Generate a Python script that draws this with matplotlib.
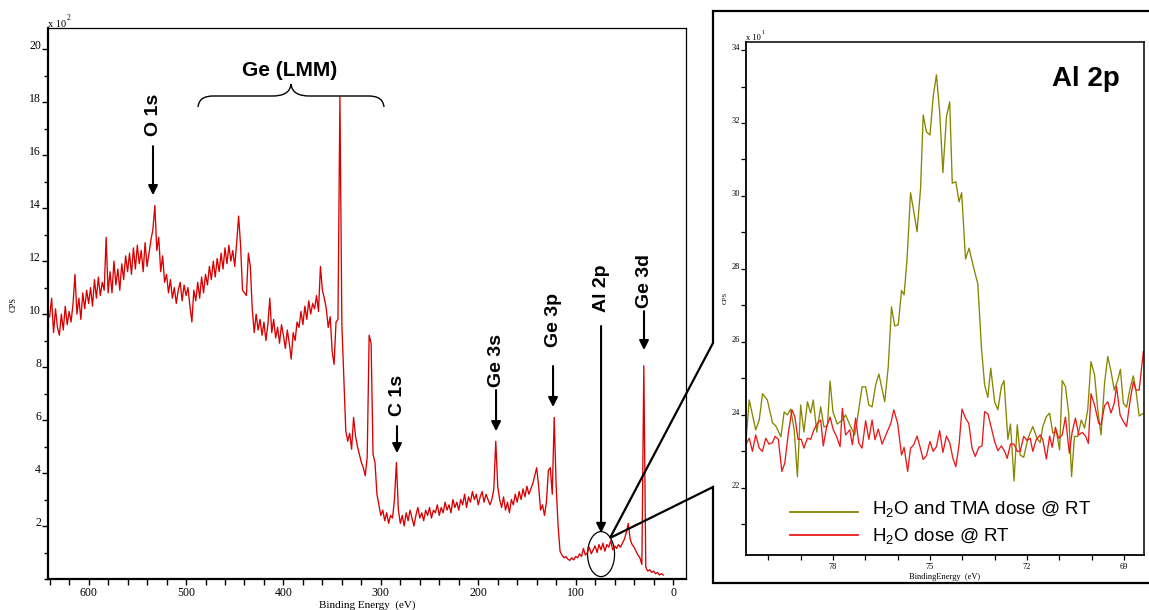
import numpy as np
import matplotlib
matplotlib.use("Agg")
import matplotlib.pyplot as plt
from matplotlib.patches import Ellipse, PathPatch
from matplotlib.path import Path
from matplotlib.lines import Line2D
from matplotlib.ticker import FixedLocator, MultipleLocator

plt.rcParams['mathtext.fontset'] = 'custom'
plt.rcParams['mathtext.rm'] = 'Liberation Sans'
plt.rcParams['mathtext.it'] = 'Liberation Sans:italic'
plt.rcParams['mathtext.bf'] = 'Liberation Sans:bold'

# ---------------- DATA ----------------
# Survey spectrum: binding energy grid (eV) and counts (CPS x 10^2)
survey_start, survey_stop, survey_step = 640, 10, 2
survey_cps = [
    9.9, 10.6, 9.3, 10.2, 9.5, 9.2, 10.0, 9.4, 10.3, 9.6, 10.1,
    9.7, 10.4, 11.5, 10.0, 10.6, 9.8, 10.8, 10.2, 10.9, 10.4,
    11.0, 10.3, 11.3, 10.6, 11.4, 10.7, 11.2, 10.9, 12.9, 10.8,
    11.6, 10.8, 12.0, 11.1, 11.7, 10.9, 11.9, 11.3, 12.2, 11.6,
    12.3, 11.5, 12.5, 11.7, 12.6, 11.9, 12.4, 11.6, 12.7, 11.8,
    12.3, 12.8, 13.2, 14.1, 12.4, 12.9, 11.6, 12.2, 11.2, 11.5,
    10.8, 11.3, 10.6, 11.0, 10.4, 10.9, 11.2, 10.5, 11.1, 10.7,
    11.0, 10.3, 9.7, 10.9, 10.5, 11.2, 10.6, 11.4, 10.8, 11.5,
    11.1, 11.8, 11.3, 12.0, 11.4, 12.1, 11.6, 12.3, 11.7, 12.5,
    11.9, 12.6, 12.0, 12.4, 11.8, 12.7, 13.7, 12.6, 10.9, 10.8,
    10.7, 12.3, 11.8, 10.2, 9.3, 10.0, 9.4, 9.8, 9.2, 9.7,
    9.0, 9.6, 10.6, 9.3, 9.8, 9.1, 9.5, 8.9, 9.6, 9.2,
    8.7, 9.4, 8.9, 8.3, 9.3, 9.0, 9.7, 9.5, 10.1, 9.6,
    10.3, 9.8, 10.5, 10.0, 10.4, 10.2, 10.7, 10.1, 11.8, 10.9,
    10.6, 10.2, 9.5, 9.9, 8.6, 8.1, 9.7, 9.8, 18.2, 9.6,
    7.6, 5.6, 5.2, 5.5, 4.9, 6.1, 5.4, 5.0, 4.7, 4.4,
    4.2, 3.9, 4.6, 9.2, 8.9, 4.7, 4.4, 3.2, 2.8, 2.4,
    2.6, 2.2, 2.5, 2.1, 2.4, 2.3, 3.0, 4.4, 2.6, 2.1,
    2.4, 2.0, 2.5, 2.2, 2.6, 2.3, 2.0, 2.4, 2.7, 2.3,
    2.5, 2.2, 2.6, 2.4, 2.7, 2.3, 2.6, 2.5, 2.8, 2.4,
    2.7, 2.5, 2.9, 2.6, 2.8, 2.5, 3.0, 2.7, 2.9, 2.6,
    3.0, 2.8, 3.2, 2.7, 3.1, 2.9, 3.3, 3.0, 3.2, 2.8,
    3.1, 3.3, 2.9, 3.2, 3.0, 2.8, 3.0, 3.4, 5.2, 3.5,
    3.0, 2.7, 3.1, 2.6, 2.9, 2.5, 3.0, 2.8, 3.2, 2.9,
    3.3, 3.0, 3.4, 3.1, 3.5, 3.2, 3.4, 3.6, 3.9, 4.2,
    3.5, 2.6, 2.8, 2.4, 2.9, 4.1, 4.2, 3.2, 6.1, 3.5,
    2.0, 1.05, 0.9, 0.8, 0.85, 0.75, 0.7, 0.8, 0.72, 0.85,
    0.8, 0.95, 0.85, 1.15, 0.9, 1.0, 1.2, 0.95, 1.1, 1.25,
    1.0, 1.3, 1.1, 1.35, 1.05, 1.3, 1.2, 1.45, 1.1, 1.25,
    1.15, 1.3, 1.2, 1.35, 1.5, 1.75, 2.1, 1.5, 1.3, 1.2,
    1.05, 0.9, 0.8, 0.55, 8.05, 0.45, 0.3, 0.35, 0.25, 0.3,
    0.2, 0.25, 0.15, 0.2, 0.15,
]

# Al 2p detail: H2O and TMA dose @ RT (energy eV, CPS x 10^1)
tma_energy = [
    80.69, 80.59, 80.39, 80.28, 80.18, 80.03, 79.87, 79.77, 79.61, 79.51,
    79.41, 79.31, 79.20, 79.10, 79.00, 78.90, 78.79, 78.69, 78.61, 78.50,
    78.38, 78.28, 78.17, 78.09, 78.00, 77.87, 77.71, 77.61, 77.48, 77.33,
    77.25, 77.10, 76.99, 76.89, 76.79, 76.68, 76.58, 76.40, 76.29, 76.19,
    76.09, 75.98, 75.88, 75.80, 75.71, 75.60, 75.50, 75.40, 75.29, 75.21,
    75.11, 75.00, 74.90, 74.80, 74.70, 74.60, 74.49, 74.39, 74.31, 74.20,
    74.10, 74.02, 73.90, 73.79, 73.67, 73.52, 73.41, 73.31, 73.21, 73.12,
    73.00, 72.90, 72.79, 72.71, 72.59, 72.51, 72.40, 72.30, 72.21, 72.10,
    71.97, 71.82, 71.69, 71.59, 71.51, 71.40, 71.30, 71.20, 71.09, 70.99,
    70.91, 70.81, 70.71, 70.62, 70.53, 70.43, 70.32, 70.22, 70.12, 70.02,
    69.91, 69.81, 69.71, 69.60, 69.50, 69.40, 69.30, 69.19, 69.11, 69.02,
    68.92, 68.81, 68.71, 68.63, 68.53, 68.42,
]
tma_cps = [
    23.30, 24.41, 23.59, 23.86, 24.58, 24.41, 23.78, 23.70, 23.40, 24.08,
    24.00, 24.16, 23.59, 22.30, 24.27, 23.53, 24.36, 24.05, 24.41, 23.53,
    24.22, 23.67, 23.70, 24.93, 24.08, 23.75, 23.86, 24.00, 23.73, 23.45,
    23.86, 24.77, 24.77, 24.27, 24.22, 24.82, 25.12, 24.36, 25.32, 26.96,
    26.44, 26.47, 27.41, 27.29, 28.25, 30.09, 29.57, 29.02, 30.21, 32.22,
    31.76, 31.67, 32.72, 33.32, 32.31, 30.64, 32.17, 32.58, 30.35, 30.39,
    29.84, 30.09, 28.27, 28.57, 28.11, 27.59, 25.87, 24.82, 24.48, 25.28,
    24.36, 24.14, 24.78, 24.94, 23.33, 23.75, 22.19, 23.73, 22.90, 22.84,
    23.36, 23.68, 23.36, 23.24, 23.68, 23.95, 24.05, 23.50, 23.54, 23.04,
    24.94, 24.78, 24.05, 22.31, 23.41, 23.41, 23.86, 23.64, 24.14, 25.46,
    25.10, 24.14, 23.45, 24.87, 25.60, 25.19, 24.68, 24.96, 25.25, 24.32,
    24.21, 24.73, 25.07, 24.68, 23.97, 24.03,
]

# Al 2p detail: H2O dose @ RT
h2o_energy = [
    80.69, 80.59, 80.49, 80.39, 80.28, 80.18, 80.08, 79.98, 79.87, 79.79,
    79.69, 79.58, 79.49, 79.38, 79.27, 79.18, 79.08, 78.98, 78.90, 78.79,
    78.69, 78.59, 78.48, 78.38, 78.30, 78.19, 78.09, 77.99, 77.89, 77.78,
    77.71, 77.61, 77.48, 77.40, 77.30, 77.20, 77.10, 76.99, 76.89, 76.79,
    76.70, 76.60, 76.48, 76.34, 76.21, 76.12, 76.00, 75.88, 75.80, 75.69,
    75.60, 75.50, 75.40, 75.31, 75.21, 75.11, 75.00, 74.90, 74.80, 74.70,
    74.60, 74.49, 74.39, 74.29, 74.20, 74.10, 74.01, 73.90, 73.80, 73.70,
    73.60, 73.49, 73.39, 73.31, 73.21, 73.10, 73.00, 72.90, 72.79, 72.69,
    72.61, 72.51, 72.40, 72.30, 72.21, 72.10, 72.00, 71.90, 71.82, 71.71,
    71.59, 71.51, 71.40, 71.30, 71.22, 71.12, 71.02, 70.91, 70.81, 70.69,
    70.60, 70.50, 70.40, 70.29, 70.19, 70.10, 70.02, 69.91, 69.78, 69.71,
    69.60, 69.50, 69.40, 69.30, 69.23, 69.12, 69.02, 68.92, 68.81, 68.71,
    68.63, 68.53, 68.40,
]
h2o_cps = [
    23.20, 23.36, 23.00, 23.45, 23.09, 23.00, 23.36, 23.20, 23.24, 23.41,
    23.33, 22.45, 22.68, 23.50, 24.14, 23.95, 23.33, 23.33, 23.09, 23.36,
    23.33, 23.59, 23.77, 23.86, 23.15, 23.70, 23.94, 23.59, 23.41, 23.13,
    24.18, 23.45, 23.59, 23.18, 23.91, 23.22, 23.09, 23.84, 23.33, 23.86,
    23.32, 23.61, 23.20, 23.50, 23.77, 24.14, 23.77, 22.90, 23.11, 22.45,
    23.09, 23.18, 23.42, 23.13, 22.78, 22.88, 23.27, 23.00, 23.13, 23.57,
    22.97, 23.42, 23.24, 22.81, 22.58, 23.18, 24.16, 23.91, 23.77, 23.09,
    22.86, 23.11, 23.15, 24.09, 24.03, 23.64, 23.27, 23.02, 23.15, 23.00,
    22.81, 23.20, 23.20, 23.00, 23.00, 23.41, 23.30, 23.36, 23.00, 23.33,
    23.45, 23.32, 22.79, 23.42, 23.11, 23.66, 23.36, 23.45, 23.94, 22.95,
    23.54, 23.91, 23.45, 23.52, 23.42, 23.22, 24.58, 24.27, 23.77, 23.73,
    24.25, 24.36, 24.05, 24.32, 24.78, 24.00, 23.82, 23.68, 24.39, 24.91,
    24.68, 24.68, 25.73,
]

main_yticks = [2, 4, 6, 8, 10, 12, 14, 16, 18, 20]
main_xticks = [600, 500, 400, 300, 200, 100, 0]
inset_yticks = [22, 24, 26, 28, 30, 32, 34]
inset_xticks = [78, 75, 72, 69]
legend_labels = [r'H$_\mathregular{2}$O and TMA dose @ RT', r'H$_\mathregular{2}$O dose @ RT']

# ---------------- FIGURE ----------------
W, H = 1149, 610
fig = plt.figure(figsize=(W / 100, H / 100), dpi=100)


def fx(x):
    return x / W


def fy(y):
    return 1 - y / H


def rect(l, t, r, b):
    return [fx(l), fy(b), (r - l) / W, (b - t) / H]


serif = 'Liberation Serif'
sans = 'Liberation Sans'
survey_color = '#d80000'
tma_color = '#868600'
h2o_color = '#ea1a1a'

# ---- main survey axes ----
ax = fig.add_axes(rect(48, 28, 686, 579))
survey_energy = np.arange(survey_start, survey_stop - 1, -survey_step)
ax.plot(survey_energy, survey_cps, color=survey_color, lw=0.95)
ax.set_xlim(641.7, -13.3)
ax.set_ylim(0, 20.8)

ax.yaxis.set_major_locator(FixedLocator(main_yticks))
ax.yaxis.set_minor_locator(MultipleLocator(1))
ax.set_yticklabels([str(t) for t in main_yticks], fontfamily=serif, fontsize=8.5)
ax.xaxis.set_major_locator(FixedLocator(main_xticks))
ax.xaxis.set_minor_locator(MultipleLocator(20))
ax.set_xticklabels([str(t) for t in main_xticks], fontfamily=serif, fontsize=8.5)
for lab in ax.get_yticklabels():
    lab.set_verticalalignment('baseline')
ax.tick_params(axis='y', which='major', direction='out', length=4, width=1, pad=1)
ax.tick_params(axis='y', which='minor', direction='out', length=3, width=1)
ax.tick_params(axis='x', which='major', direction='out', length=4.5, width=1, pad=1.5)
ax.tick_params(axis='x', which='minor', direction='out', length=4, width=1)
ax.spines['left'].set_linewidth(1.6)
ax.spines['bottom'].set_linewidth(1.6)
ax.spines['top'].set_linewidth(0.9)
ax.spines['right'].set_linewidth(0.9)

fig.text(fx(48), fy(27), 'x 10', fontfamily=serif, fontsize=7.5, ha='left', va='baseline')
fig.text(fx(67), fy(20), '2', fontfamily=serif, fontsize=5.5, ha='left', va='baseline')
fig.text(fx(14), fy(305), 'CPS', fontfamily=serif, fontsize=6, rotation=90, ha='center', va='center')
fig.text(fx(367), fy(605), 'Binding Energy  (eV)', fontfamily=serif, fontsize=8, ha='center', va='center')

# peak annotations (data coordinates)
arrow_kw = dict(arrowstyle='-|>', color='k', lw=1.5, mutation_scale=14, shrinkA=0, shrinkB=0)
annots = [
    ('O 1s', 533.9, 17.51, 16.34, 14.49),
    ('C 1s', 283.4, 6.94, 5.77, 4.75),
    ('Ge 3s', 181.7, 8.26, 7.13, 5.58),
    ('Ge 3p', 123.2, 9.77, 8.04, 6.49),
    ('Al 2p', 73.9, 10.98, 9.55, 1.74),
    ('Ge 3d', 29.8, 11.25, 10.11, 8.64),
]
for label, e, ty, y0, y1 in annots:
    ax.text(e, ty, label, rotation=90, ha='center', va='center', fontfamily=sans,
            fontweight='bold', fontsize=14)
    ax.annotate('', xy=(e, y1), xytext=(e, y0), arrowprops=arrow_kw)
ax.text(393.2, 19.2, 'Ge (LMM)', ha='center', va='center', fontfamily=sans,
        fontweight='bold', fontsize=15)
ax.add_patch(Ellipse((73.9, 0.94), width=27.7, height=1.70, fill=False, ec='k', lw=0.9))

# brace (figure pixel coordinates)
bx = [(198, 107), (199, 99), (204, 96), (214, 96), (272, 96), (283, 96), (290, 93), (291, 84),
      (292, 93), (299, 96), (310, 96), (368, 96), (378, 96), (383, 99), (384, 107)]
codes = [Path.MOVETO, Path.CURVE4, Path.CURVE4, Path.CURVE4, Path.LINETO,
         Path.CURVE4, Path.CURVE4, Path.CURVE4, Path.CURVE4, Path.CURVE4, Path.CURVE4,
         Path.LINETO, Path.CURVE4, Path.CURVE4, Path.CURVE4]
brace = Path([(fx(x), fy(y)) for x, y in bx], codes)
fig.patches.append(PathPatch(brace, fc='none', ec='k', lw=1.0, transform=fig.transFigure))

# callout frame
frame = [(1160, 11), (713, 11), (713, 343), (610, 538), (713, 487), (713, 583), (1160, 583)]
fig.add_artist(Line2D([fx(x) for x, y in frame], [fy(y) for x, y in frame],
                      color='k', lw=1.6, transform=fig.transFigure, solid_joinstyle='miter'))

# ---- inset Al 2p axes ----
ax2 = fig.add_axes(rect(746, 42, 1144, 555))
ax2.plot(tma_energy, tma_cps, color=tma_color, lw=0.95)
ax2.plot(h2o_energy, h2o_cps, color=h2o_color, lw=0.95)
ax2.set_xlim(80.69, 68.38)
ax2.set_ylim(20.16, 34.22)
ax2.yaxis.set_major_locator(FixedLocator(inset_yticks))
ax2.yaxis.set_minor_locator(MultipleLocator(1))
ax2.set_yticklabels([str(t) for t in inset_yticks], fontfamily=serif, fontsize=6)
ax2.xaxis.set_major_locator(FixedLocator(inset_xticks))
ax2.xaxis.set_minor_locator(MultipleLocator(1))
ax2.set_xticklabels([str(t) for t in inset_xticks], fontfamily=serif, fontsize=6)
for lab in ax2.get_yticklabels():
    lab.set_verticalalignment('baseline')
ax2.tick_params(axis='both', which='both', direction='out', length=3.5, width=0.9, pad=1)
ax2.tick_params(axis='x', which='major', pad=2.5)
ax2.spines['left'].set_linewidth(1.3)
ax2.spines['bottom'].set_linewidth(1.3)
ax2.spines['top'].set_linewidth(1.1)
ax2.spines['right'].set_linewidth(1.1)

fig.text(fx(746), fy(40), 'x 10', fontfamily=serif, fontsize=6, ha='left', va='baseline')
fig.text(fx(761), fy(34), '1', fontfamily=serif, fontsize=4.5, ha='left', va='baseline')
fig.text(fx(725), fy(298), 'CPS', fontfamily=serif, fontsize=5, rotation=90, ha='center', va='center')
fig.text(fx(945), fy(577), 'BindingEnergy  (eV)', fontfamily=serif, fontsize=6, ha='center', va='center')
fig.text(fx(1086), fy(86), 'Al 2p', fontfamily=sans, fontweight='bold', fontsize=20,
         ha='center', va='baseline')

# legend drawn manually
for (ly, ty, col, lab) in [(512, 514, tma_color, legend_labels[0]), (535, 541, h2o_color, legend_labels[1])]:
    fig.add_artist(Line2D([fx(790), fx(858)], [fy(ly), fy(ly)], color=col, lw=1.3,
                          transform=fig.transFigure))
    fig.text(fx(872), fy(ty), lab, fontfamily=sans, fontsize=13.5, ha='left', va='baseline')

fig.savefig('out.png', dpi=100)
